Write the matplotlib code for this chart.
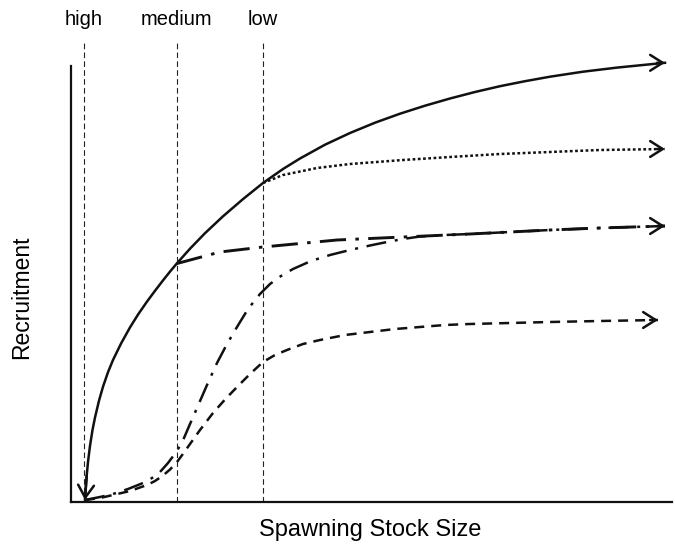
import matplotlib.pyplot as plt

plt.rcParams["font.family"] = ["Liberation Sans", "DejaVu Sans"]

# curves (stock size, recruitment), arbitrary units
solid_x = [14, 14.8, 15.7, 17, 19, 21.5, 24, 28, 32, 37, 42, 50, 59, 67, 75.7, 84, 92, 99, 105.7,
           119, 134, 152, 172, 192, 212, 229, 254, 279, 304, 329, 354, 379, 404, 429, 454, 479,
           512, 546, 594]
solid_y = [2, 14.8, 26.5, 40.2, 56.2, 72, 84.5, 101.3, 115.3, 129.8, 142, 158.4, 174.6, 187.4, 200,
           211.2, 221.6, 230.4, 238.4, 253.3, 268.8, 285.7, 302.9, 319, 333, 343.5, 357.3, 369,
           379.3, 388.3, 396.3, 403.5, 410, 415.8, 420.8, 425.3, 430.3, 434.4, 439.2]

dotted_x = [192, 212, 246, 279, 332, 379, 429, 479, 529, 594]
dotted_y = [319, 327, 334, 338, 342, 345, 348, 350, 352, 353]

dashdot_x = [105.7, 149, 192, 266, 332, 399, 479, 529, 594]
dashdot_y = [238.4, 250, 255, 262, 265, 268, 272, 274, 276]

sigmoid1_x = [14, 29, 42, 57, 72, 81, 89, 97, 106, 113, 119, 126, 136, 146, 156, 166, 177, 189,
              199, 210, 222, 240, 259, 279, 299, 316, 332, 349, 374, 399, 479, 529, 594]
sigmoid1_y = [2, 5, 8, 13, 19, 24, 30, 39, 51, 64, 78, 94, 117, 139, 158, 175, 193, 208,
              218, 226, 233, 241, 247, 252, 256.5, 260, 263, 265.5, 267, 268, 272, 274, 276]

dashed_x = [14, 29, 42, 59, 76, 84, 92, 99, 106, 113, 119, 129, 142, 154, 166, 179, 192, 204,
            216, 232, 249, 274, 299, 324, 349, 374, 399, 439, 479, 529, 587]
dashed_y = [2, 4, 7, 11, 17, 21, 26.5, 32.5, 40, 49.5, 58, 72, 89, 102.5, 115, 128, 140, 147,
            152, 158, 162, 167, 170, 173, 175, 177, 178, 179, 180, 181, 182]

# fishing pressure reference levels
levels = ["high", "medium", "low"]
level_x = [13, 106, 192]

fig = plt.figure(figsize=(6.75, 5.46), dpi=100)
ax = fig.add_axes([71 / 675, 44 / 546, 601 / 675, 436 / 546])
ax.set_xlim(0, 601)
ax.set_ylim(0, 436)

lw = 1.8
ink = "#111"
ax.plot(solid_x, solid_y, color=ink, lw=lw, clip_on=False)
ax.plot(dotted_x, dotted_y, color=ink, lw=lw, linestyle=(0, (1.1, 1.0)), clip_on=False)
ax.plot(dashdot_x, dashdot_y, color=ink, lw=2.1, linestyle=(0, (9, 3.2, 1.2, 3.2)), clip_on=False)
ax.plot(sigmoid1_x, sigmoid1_y, color=ink, lw=lw, linestyle=(0, (8, 3.5, 1.2, 3.5)), clip_on=False)
ax.plot(dashed_x, dashed_y, color=ink, lw=lw, linestyle=(0, (4, 2.8)), clip_on=False)

head = dict(arrowstyle="->, head_length=0.6, head_width=0.38",
            lw=lw, color=ink, mutation_scale=15, shrinkA=0, shrinkB=0)

# arrow heads at the right end
for xs, ys in [(solid_x, solid_y), (dotted_x, dotted_y), (dashdot_x, dashdot_y), (dashed_x, dashed_y)]:
    ax.annotate("", xy=(xs[-1], ys[-1]), xytext=(xs[-1] - 8, ys[-1]),
                arrowprops=head, annotation_clip=False)

# arrow into the origin on the solid curve
ax.annotate("", xy=(solid_x[0], solid_y[0]), xytext=(solid_x[2], solid_y[2]),
            arrowprops=head, annotation_clip=False)

for name, x in zip(levels, level_x):
    ax.plot([x, x], [0, 460], color="#222", lw=0.8, linestyle=(0, (5, 3)), clip_on=False)
    ax.text(x, 482, name, ha="center", va="center", fontsize=14.5)

for s in ["top", "right"]:
    ax.spines[s].set_visible(False)
for s in ["left", "bottom"]:
    ax.spines[s].set_linewidth(1.6)
    ax.spines[s].set_color(ink)
ax.set_xticks([])
ax.set_yticks([])

ax.set_xlabel("Spawning Stock Size", fontsize=17)
ax.xaxis.set_label_coords(0.4975, -0.038)
ax.set_ylabel("Recruitment", fontsize=16.5)
ax.yaxis.set_label_coords(-0.063, 0.47)

plt.savefig("out.png", dpi=100)
